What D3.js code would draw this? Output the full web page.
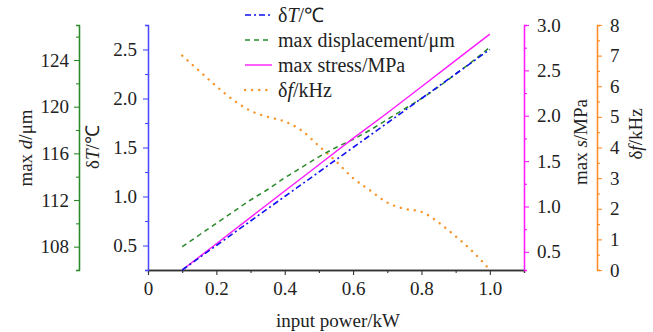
<!DOCTYPE html>
<html>
<head>
<meta charset="utf-8">
<script src="https://d3js.org/d3.v7.min.js"></script>
<style>
	body { margin: 0; background: #fff; }
	svg text { font-family: "Liberation Serif", "Times New Roman", serif; fill: #222; }
</style>
</head>
<body>
<svg id="chart" width="653" height="332"></svg>
<script>
// input power (kW)
var power = [0.1, 0.2, 0.3, 0.4, 0.5, 0.6, 0.7, 0.8, 0.9, 1.0];
var powerFine = [0.1, 0.15, 0.2, 0.25, 0.3, 0.35, 0.4, 0.45, 0.5, 0.55, 0.6, 0.65, 0.7, 0.75, 0.8, 0.85, 0.9, 0.95, 1.0];

// series
var deltaT = [0.25, 0.5, 0.75, 1.0, 1.25, 1.5, 1.75, 2.0, 2.25, 2.5];
var maxStress = [0.3, 0.59, 0.88, 1.17, 1.46, 1.75, 2.03, 2.32, 2.61, 2.9];
var maxDisp = [108.0, 109.0, 110.0, 111.0, 112.0, 112.9, 113.9, 114.8, 115.7, 116.5, 117.2, 118.0, 118.9, 119.8, 120.7, 121.7, 122.8, 123.9, 125.1];
var deltaF = [7.0, 6.5, 6.0, 5.55, 5.2, 5.0, 4.85, 4.55, 4.05, 3.55, 3.0, 2.6, 2.2, 2.0, 1.9, 1.55, 1.1, 0.6, 0.0];

// ticks
var xTicks = [0, 0.2, 0.4, 0.6, 0.8, 1.0];
var tTicks = [0.5, 1.0, 1.5, 2.0, 2.5];
var dTicks = [108, 112, 116, 120, 124];
var sTicks = [0.5, 1.0, 1.5, 2.0, 2.5, 3.0];
var fTicks = [0, 1, 2, 3, 4, 5, 6, 7, 8];

var legendLabels = ["δT/℃", "max displacement/μm", "max stress/MPa", "δf/kHz"];

var colors = {
	t: "#1010f0", tAxis: "#4a4aff",
	d: "#2a8a2a",
	s: "#ff1aff",
	f: "#f5962e", fAxis: "#ff8c26"
};

var plotTop = 25, plotBottom = 270, plotLeft = 148, plotRight = 524;
var fs = 19;

var svg = d3.select("#chart");

var x = d3.scaleLinear().domain([0, 1.1]).range([plotLeft, plotRight]);
var yT = d3.scaleLinear().domain([0.25, 2.75]).range([plotBottom, plotTop]);
var yD = d3.scaleLinear().domain([106, 127]).range([plotBottom, plotTop]);
var yS = d3.scaleLinear().domain([0.3, 3.0]).range([plotBottom, plotTop]);
var yF = d3.scaleLinear().domain([0, 8]).range([plotBottom, plotTop]);

function minor(lo, hi, step, majors) {
	var out = [];
	for (var v = lo; v <= hi + 1e-9; v += step) {
		var r = Math.round(v * 1000) / 1000;
		if (!majors.some(function(m){ return Math.abs(m - r) < 1e-6; })) out.push(r);
	}
	return out;
}

function styleAxis(g, color) {
	g.select(".domain").attr("stroke", color).attr("stroke-width", 1.3);
	g.selectAll(".tick line").attr("stroke", color).attr("stroke-width", 1.1);
	g.selectAll(".tick text").style("font-size", fs + "px").attr("fill", "#222")
		.style("font-family", '"Liberation Serif", serif');
}

function drawAxis(axisFn, scale, ticks, minors, fmt, xpos, ypos, color, pad) {
	var gMin = svg.append("g").attr("transform", "translate(" + xpos + "," + ypos + ")")
		.call(axisFn(scale).tickValues(minors).tickSize(3).tickFormat(""));
	styleAxis(gMin, color);
	var g = svg.append("g").attr("transform", "translate(" + xpos + "," + ypos + ")")
		.call(axisFn(scale).tickValues(ticks).tickSize(5).tickSizeOuter(0).tickPadding(pad).tickFormat(fmt));
	styleAxis(g, color);
	return g;
}

// x axis
drawAxis(d3.axisBottom, x, xTicks, minor(0, 1.1, 0.1, xTicks),
	function(d){ return d === 0 ? "0" : d3.format(".1f")(d); }, 0, plotBottom, "#333", 7);

// left axes
drawAxis(d3.axisLeft, yT, tTicks, minor(0.25, 2.75, 0.25, tTicks), d3.format(".1f"), plotLeft, 0, colors.tAxis, 6);
drawAxis(d3.axisLeft, yD, dTicks, minor(106, 127, 2, dTicks), d3.format("d"), 79, 0, colors.d, 5);

// right axes
drawAxis(d3.axisRight, yS, sTicks, minor(0.5, 3.0, 0.25, sTicks), d3.format(".1f"), plotRight, 0, colors.s, 8);
drawAxis(d3.axisRight, yF, fTicks, minor(0, 8, 0.5, fTicks), d3.format("d"), 597, 0, colors.fAxis, 8);

// axis titles
function title(xp, yp, parts, rot) {
	var t = svg.append("text")
		.attr("transform", "translate(" + xp + "," + yp + ")" + (rot ? " rotate(-90)" : ""))
		.attr("text-anchor", "middle")
		.attr("dy", "0.35em")
		.style("font-size", fs + "px");
	parts.forEach(function(p){
		t.append("tspan").text(p[0]).style("font-style", p[1] ? "italic" : "normal");
	});
}
title(338, 320, [["input power/kW", false]], false);
title(25, 148, [["max ", false], ["d", true], ["/μm", false]], true);
title(92, 147, [["δ", false], ["T", true], ["/℃", false]], true);
title(580, 142, [["max ", false], ["s", true], ["/MPa", false]], true);
title(635, 134, [["δ", false], ["f", true], ["/kHz", false]], true);

// lines
function drawLine(xs, ys, yScale, color, dash, width, cap, curve) {
	var line = d3.line()
		.x(function(d, i){ return x(xs[i]); })
		.y(function(d){ return yScale(d); })
		.curve(curve || d3.curveLinear);
	svg.append("path").datum(ys)
		.attr("d", line)
		.attr("fill", "none")
		.attr("stroke", color)
		.attr("stroke-width", width)
		.attr("stroke-dasharray", dash)
		.attr("stroke-linecap", cap || "butt");
}

var styles = [
	{ color: colors.t, dash: "6,3,2,3", w: 1.6, cap: "butt" },
	{ color: colors.d, dash: "5,4", w: 1.5, cap: "butt" },
	{ color: colors.s, dash: null, w: 1.4, cap: "butt" },
	{ color: colors.f, dash: "0.1,7", w: 2.4, cap: "round" }
];

drawLine(powerFine, deltaF, yF, styles[3].color, styles[3].dash, styles[3].w, styles[3].cap, d3.curveMonotoneX);
drawLine(powerFine, maxDisp, yD, styles[1].color, styles[1].dash, styles[1].w, styles[1].cap, d3.curveMonotoneX);
drawLine(power, maxStress, yS, styles[2].color, styles[2].dash, styles[2].w, styles[2].cap);
drawLine(power, deltaT, yT, styles[0].color, styles[0].dash, styles[0].w, styles[0].cap);

// legend
var legendRows = svg.selectAll(".leg").data(legendLabels).enter().append("g")
	.attr("class", "leg")
	.attr("transform", function(d, i){ return "translate(245," + (15 + i * 25) + ")"; });
legendRows.append("line")
	.attr("x1", 0).attr("x2", 27).attr("y1", 0).attr("y2", 0)
	.attr("stroke", function(d, i){ return styles[i].color; })
	.attr("stroke-width", function(d, i){ return styles[i].w; })
	.attr("stroke-dasharray", function(d, i){ return styles[i].dash; })
	.attr("stroke-linecap", function(d, i){ return styles[i].cap; });
legendRows.each(function(d, i){
	var t = d3.select(this).append("text")
		.attr("x", 33).attr("dy", "0.35em")
		.style("font-size", "20px");
	if (i === 0) {
		t.append("tspan").text("δ");
		t.append("tspan").text("T").style("font-style", "italic");
		t.append("tspan").text("/℃");
	} else if (i === 3) {
		t.append("tspan").text("δ");
		t.append("tspan").text("f").style("font-style", "italic");
		t.append("tspan").text("/kHz");
	} else {
		t.text(d);
	}
});
</script>
</body>
</html>
